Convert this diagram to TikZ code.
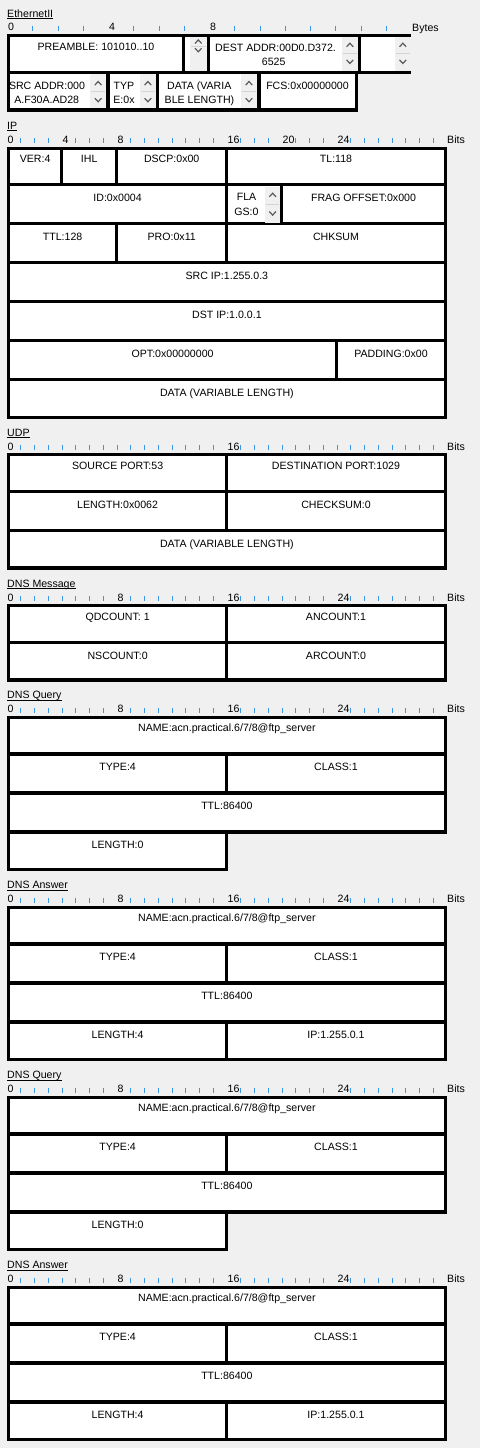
\documentclass[tikz,border=0pt]{standalone}
\usepackage{fontspec}
\setmainfont{Liberation Sans}
\pgfdeclarelayer{back}
\pgfdeclarelayer{bg}
\pgfsetlayers{back,bg,main}
\definecolor{pagebg}{HTML}{F0F0F0}
\definecolor{tickblue}{RGB}{60,150,230}
\definecolor{spinbg}{HTML}{F0F0F0}
\definecolor{chev}{HTML}{5A5A5A}
\definecolor{sepline}{HTML}{D4D4D4}
\tikzset{
  cellline/.style={draw=black, line width=3.2pt},
  lbl/.style={font=\fontsize{10.6}{12}\selectfont, inner sep=0pt, anchor=base, text=black},
  titlelbl/.style={lbl, anchor=base west},
  rulerlbl/.style={lbl, anchor=base west},
  tickmark/.style={draw=tickblue, line width=1pt},
  chevron/.style={draw=chev, line width=1.2pt},
}
% box only: T n i b1 b2
\newcommand{\bcell}[5]{%
  \begin{pgfonlayer}{bg}\fill[white] ({xb(#4)},{ry(#1,#3,#2)}) rectangle ({xb(#5)},{ry(#1,#3+1,#2)});\end{pgfonlayer}
  \draw[cellline] ({xb(#4)},{ry(#1,#3,#2)}) rectangle ({xb(#5)},{ry(#1,#3+1,#2)});}
% box with label: name T n i b1 b2 text
\newcommand{\fcell}[7]{\bcell{#2}{#3}{#4}{#5}{#6}%
  \node[lbl] (#1) at ({(xb(#5)+xb(#6))/2},{#2+39*#4+15.8}) {#7};}
% header: name T title unit unitx
\newcommand{\sechead}[5]{%
  \node[titlelbl] (#1t) at (7,{#2-21+3.8}) {#3};
  \draw[line width=0.9pt] ([yshift=-1.4pt]#1t.base west) -- ([yshift=-1.4pt]#1t.base east);
  \node[rulerlbl] (#1u) at (#5,{#2-7+3.8}) {#4};}
% bit ruler labels: name T list
\newcommand{\rlabels}[3]{\foreach \k in {#3} \node[rulerlbl] (#1r\k) at ({7.5+13.75*\k},{#2-7+3.8}) {\k};}
% bit ruler ticks: T listmacro
\newcommand{\rticks}[2]{\foreach \k in #2 \draw[tickmark] ({7+13.75*\k},{#1-8.5}) -- ({7+13.75*\k},{#1-3.3});}
% spinner: x1 x2 y1 y2 yup ydown ysep
\newcommand{\spin}[7]{%
  \fill[spinbg] (#1,#3) rectangle (#2,#4);
  \draw[sepline, line width=0.8pt] ({#1+1},#7) -- ({#2-1},#7);
  \draw[chevron] ({(#1+#2)/2-3.3},{#5+1.8}) -- ({(#1+#2)/2},{#5-1.8}) -- ({(#1+#2)/2+3.3},{#5+1.8});
  \draw[chevron] ({(#1+#2)/2-3.3},{#6-1.8}) -- ({(#1+#2)/2},{#6+1.8}) -- ({(#1+#2)/2+3.3},{#6-1.8});}
\def\IPt{1,2,3,5,6,7,9,10,11,12,13,14,15,17,18,19,21,22,23,25,26,27,28,29,30,31}
\def\UDPt{1,2,3,4,5,6,7,8,9,10,11,12,13,14,15,17,18,19,20,21,22,23,24,25,26,27,28,29,30,31}
\def\DNSt{1,2,3,4,5,6,7,9,10,11,12,13,14,15,17,18,19,20,21,22,23,25,26,27,28,29,30,31}
\begin{document}
\begin{tikzpicture}[x=1pt,y=-1pt,
  declare function={
    xb(\Ba)=ifthenelse(\Ba==0,8.5,ifthenelse(\Ba==32,445.3,6.7+13.75*\Ba));
    ry(\Ta,\Ia,\Na)=ifthenelse(\Ia==0,\Ta+1.4,ifthenelse(\Ia==\Na,\Ta+39*\Ia-2.4,\Ta+39*\Ia-1));
  }]
\begin{pgfonlayer}{back}
\fill[pagebg] (0,0) rectangle (480,1448);
\end{pgfonlayer}
\useasboundingbox (0,0) rectangle (480,1448);

% ===== Ethernet II =====
\sechead{eth}{34.3}{EthernetII}{Bytes}{412}
\foreach \k in {0,4,8} \node[rulerlbl] (ethr\k) at ({8+25.25*\k},30.8) {\k};
\foreach \k in {1,2,3,5,6,7,9,10,11,12,13,14,15} \draw[tickmark] ({7.5+25.25*\k},25.5) -- ({7.5+25.25*\k},30.7);
\begin{pgfonlayer}{bg}
\fill[white] (8.5,35.7) rectangle (411,72.3);
\fill[white] (8.5,72.3) rectangle (356.7,109.9);
\end{pgfonlayer}
\draw[cellline] (8.5,35.7) rectangle (183.7,72.3);
\draw[cellline] (183.7,35.7) rectangle (208.3,72.3);
\draw[cellline] (208.3,35.7) rectangle (359.5,72.3);
\draw[cellline] (411,35.7) -- (359.5,35.7) -- (359.5,72.3) -- (411,72.3);
\draw[cellline] (8.5,72.3) rectangle (108,109.9);
\draw[cellline] (108,72.3) rectangle (157.5,109.9);
\draw[cellline] (157.5,72.3) rectangle (259,109.9);
\draw[cellline] (259,72.3) rectangle (356.7,109.9);
\spin{190}{206.6}{37.3}{70.7}{41.7}{50}{46}
\spin{342}{357.8}{37.3}{70.7}{45}{61.7}{53}
\spin{395}{410.7}{37.3}{70.7}{45}{61.7}{53}
\spin{90}{106.3}{73.9}{108.3}{83.3}{100}{91.7}
\spin{140}{155.8}{73.9}{108.3}{83.3}{100}{91.7}
\spin{240.7}{257.3}{73.9}{108.3}{83.3}{100}{91.7}
\node[lbl] (pre) at (96,50.5) {PREAMBLE: 101010..10};
\node[lbl] (dsta) at (275.5,51.2) {DEST ADDR:00D0.D372.};
\node[lbl] (dstb) at (273.7,65) {6525};
\node[lbl] (srca) at (47,89.8) {SRC ADDR:000};
\node[lbl] (srcb) at (46.7,103.8) {A.F30A.AD28};
\node[lbl] (typa) at (124,89.8) {TYP};
\node[lbl] (typb) at (124,103.8) {E:0x};
\node[lbl] (data) at (199.3,89.8) {DATA (VARIA};
\node[lbl] (datb) at (199.5,103.8) {BLE LENGTH)};
\node[lbl] (fcs) at (307.5,89.8) {FCS:0x00000000};

% ===== IP =====
\sechead{ip}{146.7}{IP}{Bits}{447}
\rlabels{ip}{146.7}{0,4,8,16,20,24}
\rticks{146.7}{\IPt}
\fcell{ver}{146.7}{7}{0}{0}{4}{VER:4}
\fcell{ihl}{146.7}{7}{0}{4}{8}{IHL}
\fcell{dscp}{146.7}{7}{0}{8}{16}{DSCP:0x00}
\fcell{tl}{146.7}{7}{0}{16}{32}{TL:118}
\fcell{id}{146.7}{7}{1}{0}{16}{ID:0x0004}
\bcell{146.7}{7}{1}{16}{20}
\fcell{frag}{146.7}{7}{1}{20}{32}{FRAG OFFSET:0x000}
\fcell{ttl}{146.7}{7}{2}{0}{8}{TTL:128}
\fcell{pro}{146.7}{7}{2}{8}{16}{PRO:0x11}
\fcell{chk}{146.7}{7}{2}{16}{32}{CHKSUM}
\fcell{sip}{146.7}{7}{3}{0}{32}{SRC IP:1.255.0.3}
\fcell{dip}{146.7}{7}{4}{0}{32}{DST IP:1.0.0.1}
\fcell{opt}{146.7}{7}{5}{0}{24}{OPT:0x00000000}
\fcell{pad}{146.7}{7}{5}{24}{32}{PADDING:0x00}
\fcell{ipdata}{146.7}{7}{6}{0}{32}{DATA (VARIABLE LENGTH)}
\spin{265}{280.3}{187.3}{223.1}{195}{213.3}{204}
\node[lbl] (flga) at (246.5,200.5) {FLA};
\node[lbl] (flgb) at (246.5,215.5) {GS:0};

% ===== UDP =====
\sechead{udp}{453.3}{UDP}{Bits}{447}
\rlabels{udp}{453.3}{0,16}
\rticks{453.3}{\UDPt}
\fcell{sport}{453.3}{3}{0}{0}{16}{SOURCE PORT:53}
\fcell{dport}{453.3}{3}{0}{16}{32}{DESTINATION PORT:1029}
\fcell{ulen}{453.3}{3}{1}{0}{16}{LENGTH:0x0062}
\fcell{usum}{453.3}{3}{1}{16}{32}{CHECKSUM:0}
\fcell{udata}{453.3}{3}{2}{0}{32}{DATA (VARIABLE LENGTH)}

% ===== DNS Message =====
\sechead{dm}{604.3}{DNS Message}{Bits}{447}
\rlabels{dm}{604.3}{0,8,16,24}
\rticks{604.3}{\DNSt}
\fcell{qd}{604.3}{2}{0}{0}{16}{QDCOUNT: 1}
\fcell{an}{604.3}{2}{0}{16}{32}{ANCOUNT:1}
\fcell{ns}{604.3}{2}{1}{0}{16}{NSCOUNT:0}
\fcell{ar}{604.3}{2}{1}{16}{32}{ARCOUNT:0}

% ===== DNS Query 1 =====
\sechead{qa}{716}{DNS Query}{Bits}{447}
\rlabels{qa}{716}{0,8,16,24}
\rticks{716}{\DNSt}
\fcell{qaname}{716}{4}{0}{0}{32}{NAME:acn.practical.6/7/8@ftp\_server}
\fcell{qatype}{716}{4}{1}{0}{16}{TYPE:4}
\fcell{qaclass}{716}{4}{1}{16}{32}{CLASS:1}
\fcell{qattl}{716}{4}{2}{0}{32}{TTL:86400}
\fcell{qalen}{716}{4}{3}{0}{16}{LENGTH:0}

% ===== DNS Answer 1 =====
\sechead{aa}{906}{DNS Answer}{Bits}{447}
\rlabels{aa}{906}{0,8,16,24}
\rticks{906}{\DNSt}
\fcell{aaname}{906}{4}{0}{0}{32}{NAME:acn.practical.6/7/8@ftp\_server}
\fcell{aatype}{906}{4}{1}{0}{16}{TYPE:4}
\fcell{aaclass}{906}{4}{1}{16}{32}{CLASS:1}
\fcell{aattl}{906}{4}{2}{0}{32}{TTL:86400}
\fcell{aalen}{906}{4}{3}{0}{16}{LENGTH:4}
\fcell{aaip}{906}{4}{3}{16}{32}{IP:1.255.0.1}

% ===== DNS Query 2 =====
\sechead{qb}{1096}{DNS Query}{Bits}{447}
\rlabels{qb}{1096}{0,8,16,24}
\rticks{1096}{\DNSt}
\fcell{qbname}{1096}{4}{0}{0}{32}{NAME:acn.practical.6/7/8@ftp\_server}
\fcell{qbtype}{1096}{4}{1}{0}{16}{TYPE:4}
\fcell{qbclass}{1096}{4}{1}{16}{32}{CLASS:1}
\fcell{qbttl}{1096}{4}{2}{0}{32}{TTL:86400}
\fcell{qblen}{1096}{4}{3}{0}{16}{LENGTH:0}

% ===== DNS Answer 2 =====
\sechead{ab}{1286}{DNS Answer}{Bits}{447}
\rlabels{ab}{1286}{0,8,16,24}
\rticks{1286}{\DNSt}
\fcell{abname}{1286}{4}{0}{0}{32}{NAME:acn.practical.6/7/8@ftp\_server}
\fcell{abtype}{1286}{4}{1}{0}{16}{TYPE:4}
\fcell{abclass}{1286}{4}{1}{16}{32}{CLASS:1}
\fcell{abttl}{1286}{4}{2}{0}{32}{TTL:86400}
\fcell{ablen}{1286}{4}{3}{0}{16}{LENGTH:4}
\fcell{abip}{1286}{4}{3}{16}{32}{IP:1.255.0.1}
\end{tikzpicture}
\end{document}
